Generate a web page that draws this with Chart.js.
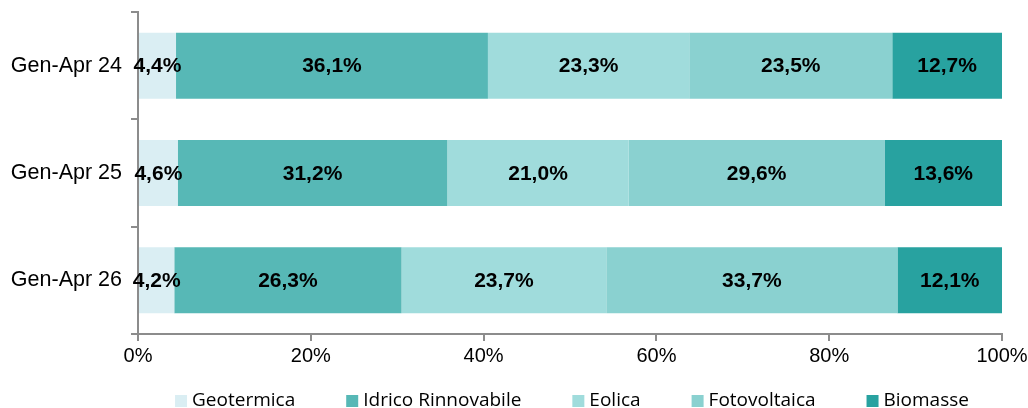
<!DOCTYPE html>
<html>
<head>
<meta charset="utf-8">
<script src="https://cdn.jsdelivr.net/npm/chart.js@4/dist/chart.umd.min.js"></script>
<style>
  html, body { margin: 0; padding: 0; background: #ffffff; }
  #wrap { width: 1028px; height: 408px; }
</style>
</head>
<body>
<div id="wrap"><canvas id="c" width="1028" height="408"></canvas></div>
<script>
// Periods shown on the vertical axis
const periods = ['Gen-Apr 24', 'Gen-Apr 25', 'Gen-Apr 26'];

// Share (%) of each renewable source per period
const geotermica   = [4.4, 4.6, 4.2];
const idrico       = [36.1, 31.2, 26.3];
const eolica       = [23.3, 21.0, 23.7];
const fotovoltaica = [23.5, 29.6, 33.7];
const biomasse     = [12.7, 13.6, 12.1];

const seriesNames  = ['Geotermica', 'Idrico Rinnovabile', 'Eolica', 'Fotovoltaica', 'Biomasse'];
const seriesColors = ['#DAEEF3', '#57B8B6', '#A0DCDC', '#8AD1D0', '#28A2A0'];
const seriesValues = [geotermica, idrico, eolica, fotovoltaica, biomasse];

const axisColor = '#8c8c8c';
const sansFont = '"Liberation Sans", Arial, sans-serif';

// Writes each segment's share, centred on the segment
const segmentLabels = {
  id: 'segmentLabels',
  afterDatasetsDraw(chart) {
    const ctx = chart.ctx;
    ctx.save();
    ctx.font = 'bold 21px ' + sansFont;
    ctx.fillStyle = '#000000';
    ctx.textAlign = 'center';
    ctx.textBaseline = 'middle';
    chart.data.datasets.forEach((ds, di) => {
      const meta = chart.getDatasetMeta(di);
      meta.data.forEach((bar, i) => {
        const v = ds.data[i];
        const p = bar.getProps(['x', 'y', 'base'], true);
        const cx = (p.x + p.base) / 2;
        ctx.fillText(v.toFixed(1).replace('.', ',') + '%', cx, p.y + 1);
      });
    });
    ctx.restore();
  }
};

// Single-row legend under the x axis, centred on the plot area
const bottomLegend = {
  id: 'bottomLegend',
  afterDraw(chart) {
    const ctx = chart.ctx;
    const area = chart.chartArea;
    const box = 12, textGap = 5, itemGap = 51;
    ctx.save();
    ctx.font = '19px "Open Sans", sans-serif';
    ctx.textBaseline = 'middle';
    ctx.textAlign = 'left';
    const items = chart.data.datasets.map(ds => ({
      label: ds.label, color: ds.backgroundColor,
      w: box + textGap + ctx.measureText(ds.label).width
    }));
    const total = items.reduce((s, it) => s + it.w, 0) + itemGap * (items.length - 1);
    let x = (area.left + area.right) / 2 - total / 2 + 2;
    const cy = chart.height - 7;
    items.forEach(it => {
      ctx.fillStyle = it.color;
      ctx.fillRect(x, cy - box / 2, box, box);
      ctx.fillStyle = '#000000';
      ctx.fillText(it.label, x + box + textGap, cy);
      x += it.w + itemGap;
    });
    ctx.restore();
  }
};

new Chart(document.getElementById('c'), {
  type: 'bar',
  data: {
    labels: periods,
    datasets: seriesNames.map((name, i) => ({
      label: name,
      data: seriesValues[i],
      backgroundColor: seriesColors[i],
      borderWidth: 0,
      barPercentage: 0.615,
      categoryPercentage: 1.0
    }))
  },
  options: {
    indexAxis: 'y',
    responsive: false,
    animation: false,
    layout: { padding: { top: 12, right: 26, left: 0, bottom: 34 } },
    scales: {
      x: {
        stacked: true,
        min: 0,
        max: 100,
        ticks: {
          stepSize: 20,
          color: '#000000',
          padding: 3,
          font: { family: sansFont, size: 20 },
          callback: v => v + '%'
        },
        grid: { drawOnChartArea: false, tickLength: 7, color: axisColor, lineWidth: 2 },
        border: { color: axisColor, width: 2 },
        afterFit(scale) {
          scale.height = 40;
          scale.paddingLeft = 0;
          scale.paddingRight = 0;
        }
      },
      y: {
        stacked: true,
        ticks: {
          color: '#000000',
          padding: 9,
          font: { family: sansFont, size: 21.5 }
        },
        grid: { drawOnChartArea: false, tickLength: 7, color: axisColor, lineWidth: 2, offset: true },
        border: { color: axisColor, width: 2 },
        afterFit(scale) {
          scale.width = 138;
          scale.paddingTop = 0;
          scale.paddingBottom = 0;
        }
      }
    },
    plugins: {
      legend: { display: false },
      tooltip: { enabled: false }
    }
  },
  plugins: [segmentLabels, bottomLegend]
});
</script>
</body>
</html>
